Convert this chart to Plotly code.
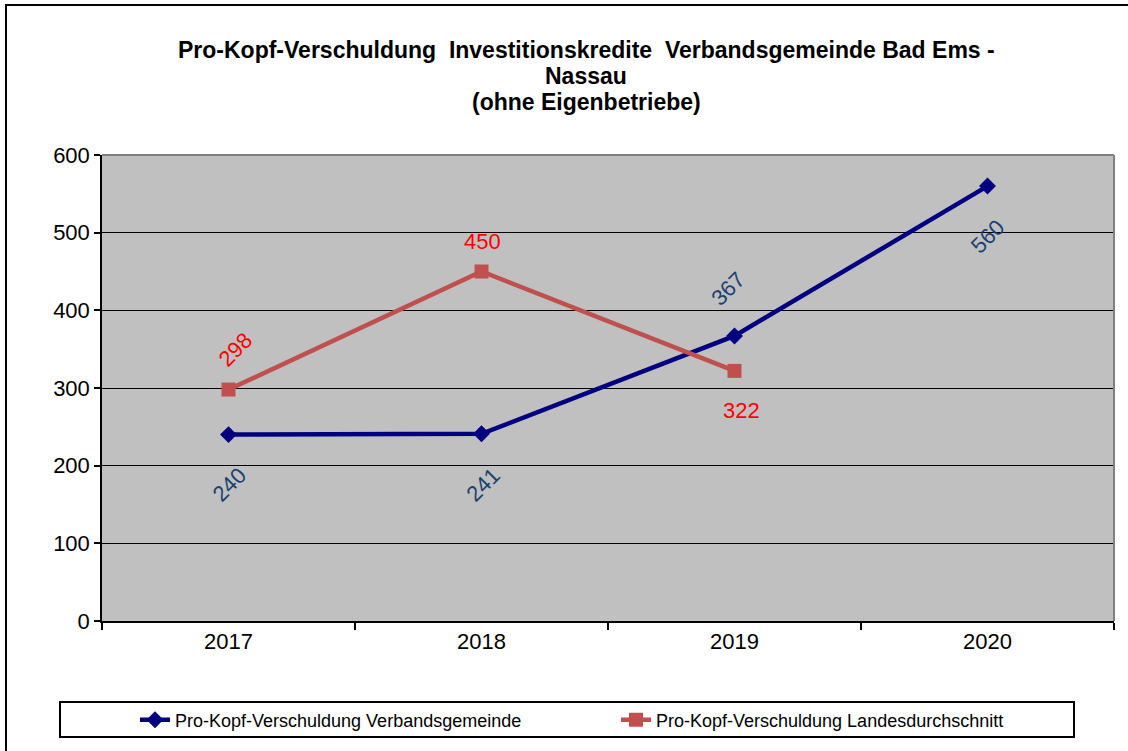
import plotly.graph_objects as go

years = ["2017", "2018", "2019", "2020"]
vg_values = [240, 241, 367, 560]
land_years = ["2017", "2018", "2019"]
land_values = [298, 450, 322]
y_ticks = [0, 100, 200, 300, 400, 500, 600]

name_vg = "Pro-Kopf-Verschuldung Verbandsgemeinde"
name_land = "Pro-Kopf-Verschuldung Landesdurchschnitt"
title_lines = [
    "Pro-Kopf-Verschuldung\u00a0 Investitionskredite\u00a0 Verbandsgemeinde Bad Ems -",
    "Nassau",
    "(ohne Eigenbetriebe)",
]

W, H = 1128, 751
L, R, T, B = 102, 1114, 155, 621
pw, ph = R - L, B - T

def px(x):
    return (x - L) / pw

def py(y):
    return (B - y) / ph

FONT = "Liberation Sans, Arial, sans-serif"

fig = go.Figure()
fig.add_trace(go.Scatter(
    x=years, y=vg_values, mode="lines+markers", name=name_vg,
    line=dict(color="#000080", width=4.5),
    marker=dict(symbol="diamond", size=13, color="#000080"),
))
fig.add_trace(go.Scatter(
    x=land_years, y=land_values, mode="lines+markers", name=name_land,
    line=dict(color="#C0504D", width=4.5),
    marker=dict(symbol="square", size=14, color="#C0504D"),
))

annotations = []
# data labels (x given as category index on the category axis)
vg_shift = [(1, -50, -45), (2, -51, -45), (-6, 47, -45), (0, -50, -45)]
for yr, v, (dx, dy, ang) in zip(years, vg_values, vg_shift):
    annotations.append(dict(x=years.index(yr), y=v, xref="x", yref="y", text=str(v), showarrow=False,
                            xshift=dx, yshift=dy, textangle=ang,
                            font=dict(family=FONT, size=22, color="#1A4273")))
land_shift = [(7, 40, -45), (1, 30, 0), (7, -40, 0)]
for yr, v, (dx, dy, ang) in zip(land_years, land_values, land_shift):
    annotations.append(dict(x=years.index(yr), y=v, xref="x", yref="y", text=str(v), showarrow=False,
                            xshift=dx, yshift=dy, textangle=ang,
                            font=dict(family=FONT, size=22, color="#FF0000")))
# title
for txt, ypix in zip(title_lines, [50, 76, 102]):
    annotations.append(dict(x=px(586), y=py(ypix), xref="paper", yref="paper", text="<b>" + txt + "</b>",
                            showarrow=False, xanchor="center", yanchor="middle",
                            font=dict(family=FONT, size=23, color="black")))

shapes = [
    # outer chart border
    dict(type="rect", xref="paper", yref="paper", x0=px(6), x1=px(1140), y0=py(760), y1=py(5),
         line=dict(color="black", width=2), layer="below"),
    # plot area border top/right (gray)
    dict(type="line", xref="paper", yref="paper", x0=0, x1=1, y0=1, y1=1,
         line=dict(color="#808080", width=2), layer="above"),
    dict(type="line", xref="paper", yref="paper", x0=1, x1=1, y0=0, y1=1,
         line=dict(color="#808080", width=2), layer="above"),
    # legend box
    dict(type="rect", xref="paper", yref="paper", x0=px(60), x1=px(1074), y0=py(737), y1=py(702),
         line=dict(color="black", width=2)),
]

fig.update_layout(
    width=W, height=H,
    margin=dict(l=L, r=W - R, t=T, b=H - B, pad=0),
    paper_bgcolor="white", plot_bgcolor="#C0C0C0",
    font=dict(family=FONT, color="black"),
    showlegend=True,
    legend=dict(orientation="h", x=px(135), xanchor="left", y=py(720), yanchor="middle",
                bgcolor="rgba(0,0,0,0)", borderwidth=0, font=dict(family=FONT, size=18, color="black"),
                entrywidth=436, itemwidth=30),
    annotations=annotations,
    shapes=shapes,
    xaxis=dict(type="category", categoryorder="array", categoryarray=years, range=[-0.5, 3.5],
               showline=True, linecolor="black", linewidth=1.5, tickson="boundaries",
               ticks="outside", ticklen=7, tickcolor="black", tickwidth=1.5,
               showgrid=False, tickfont=dict(family=FONT, size=22, color="black"), zeroline=False),
    yaxis=dict(range=[0, 600], tickvals=y_ticks, showline=True, linecolor="black", linewidth=1.5,
               ticks="outside", ticklen=6, tickcolor="black", tickwidth=1.5,
               showgrid=True, gridcolor="black", gridwidth=1.2, zeroline=False,
               tickfont=dict(family=FONT, size=22, color="black")),
)

fig.write_html("out.html", config={"displayModeBar": False},
               post_script="document.body.style.margin='0';document.body.style.overflow='hidden';")
